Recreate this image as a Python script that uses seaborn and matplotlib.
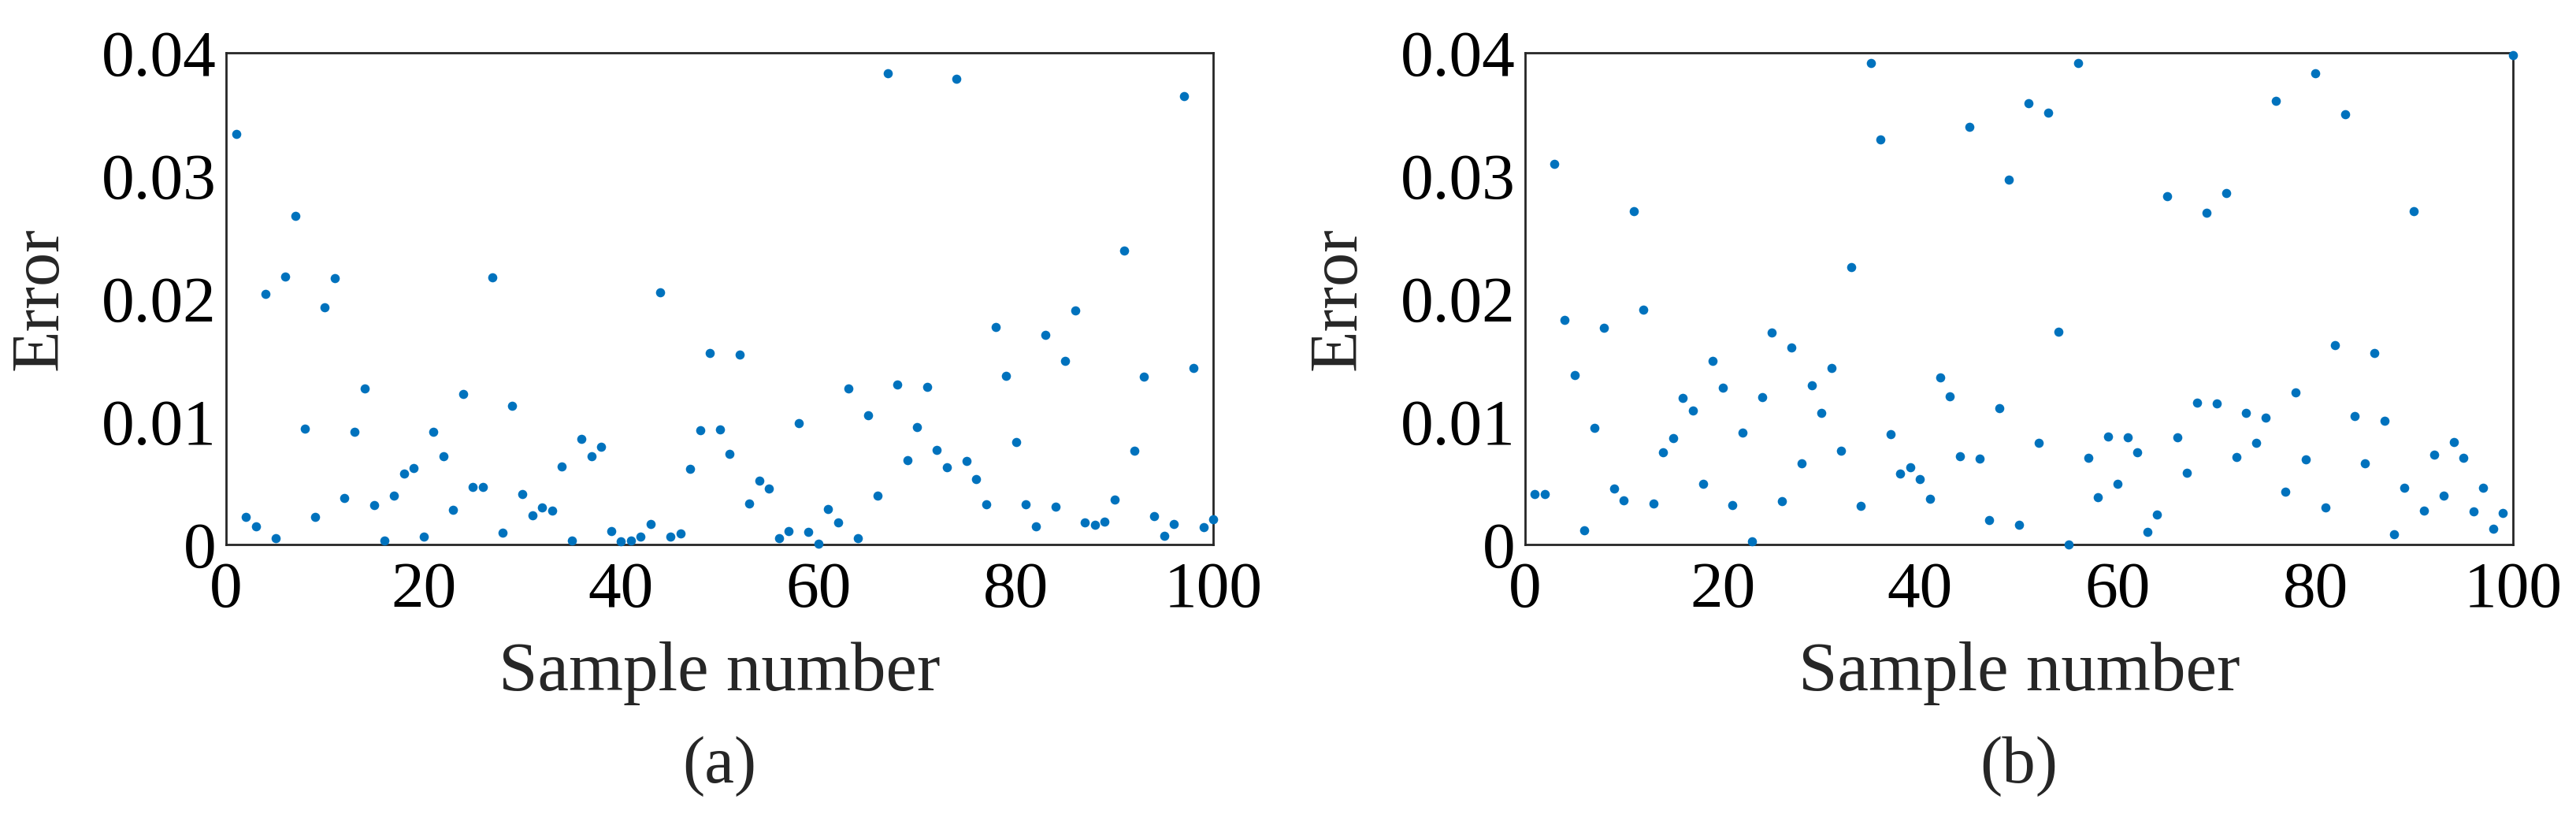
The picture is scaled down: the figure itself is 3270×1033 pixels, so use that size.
import pandas as pd
import matplotlib
matplotlib.use('Agg')
import matplotlib.pyplot as plt
import seaborn as sns

# data
sample_number = list(range(1, 101))

error_a = [0.0334, 0.00227, 0.00151, 0.02038, 0.00051, 0.02181, 0.02675, 0.00942, 0.00227, 0.01932,
           0.02165, 0.00381, 0.00920, 0.01271, 0.00318, 0.00030, 0.00399, 0.00578, 0.00623, 0.00062,
           0.00920, 0.00721, 0.00283, 0.01228, 0.00467, 0.00470, 0.02175, 0.00094, 0.01131, 0.00408,
           0.00235, 0.00305, 0.00275, 0.00632, 0.00030, 0.00861, 0.00721, 0.00794, 0.00111, 0.00024,
           0.00030, 0.00065, 0.00165, 0.02049, 0.00065, 0.00089, 0.00613, 0.00928, 0.01557, 0.00937,
           0.00737, 0.01544, 0.00332, 0.00518, 0.00453, 0.00054, 0.00108, 0.00985, 0.00105, 0.00005,
           0.00286, 0.00178, 0.01271, 0.00049, 0.01050, 0.00397, 0.03835, 0.01304, 0.00688, 0.00958,
           0.01285, 0.00767, 0.00626, 0.03792, 0.00683, 0.00532, 0.00327, 0.01768, 0.01374, 0.00834,
           0.00327, 0.00146, 0.01706, 0.00308, 0.01495, 0.01903, 0.00181, 0.00162, 0.00184, 0.00367,
           0.02389, 0.00761, 0.01363, 0.00232, 0.00070, 0.00170, 0.03649, 0.01436, 0.00140, 0.00208]

error_b = [0.00413, 0.00413, 0.03096, 0.01830, 0.01377, 0.00113, 0.00947, 0.01765, 0.00453, 0.00362,
           0.02710, 0.01908, 0.00332, 0.00748, 0.00869, 0.01193, 0.01090, 0.00494, 0.01495, 0.01274,
           0.00321, 0.00910, 0.00027, 0.01198, 0.01722, 0.00356, 0.01606, 0.00661, 0.01298, 0.01071,
           0.01436, 0.00761, 0.02254, 0.00313, 0.03919, 0.03296, 0.00901, 0.00578, 0.00626, 0.00534,
           0.00375, 0.01358, 0.01204, 0.00721, 0.03398, 0.00699, 0.00197, 0.01112, 0.02969, 0.00162,
           0.03592, 0.00829, 0.03514, 0.01730, 0.00003, 0.03916, 0.00704, 0.00383, 0.00877, 0.00491,
           0.00872, 0.00750, 0.00103, 0.00243, 0.02837, 0.00872, 0.00586, 0.01155, 0.02699, 0.01147,
           0.02858, 0.00715, 0.01074, 0.00826, 0.01034, 0.03611, 0.00429, 0.01236, 0.00696, 0.03833,
           0.00305, 0.01620, 0.03503, 0.01045, 0.00661, 0.01557, 0.01010, 0.00086, 0.00459, 0.02710,
           0.00273, 0.00729, 0.00399, 0.00834, 0.00707, 0.00267, 0.00464, 0.00127, 0.00254, 0.03981]

x_ticks = [0, 20, 40, 60, 80, 100]
y_ticks = [0, 0.01, 0.02, 0.03, 0.04]
y_tick_labels = ['0', '0.01', '0.02', '0.03', '0.04']
panel_labels = ['(a)', '(b)']

sns.set_theme(style='white')
plt.rcParams['font.family'] = ['Liberation Serif', 'DejaVu Serif']

fig = plt.figure(figsize=(32.7, 10.33), dpi=100)
ax_a = fig.add_axes([0.0878, 0.331, 0.3832, 0.604])
ax_b = fig.add_axes([0.5920, 0.331, 0.3835, 0.604])

for ax, err, label in zip([ax_a, ax_b], [error_a, error_b], panel_labels):
    df = pd.DataFrame({'sample': sample_number, 'error': err})
    sns.scatterplot(data=df, x='sample', y='error', ax=ax, color='#0072BD',
                    s=70, linewidth=0, clip_on=False, zorder=3)
    ax.set_xlim(0, 100)
    ax.set_ylim(0, 0.04)
    ax.set_xticks(x_ticks)
    ax.set_xticklabels([str(t) for t in x_ticks])
    ax.set_yticks(y_ticks)
    ax.set_yticklabels(y_tick_labels)
    ax.tick_params(axis='both', length=0, labelsize=60, colors='black')
    ax.tick_params(axis='x', pad=15)
    ax.tick_params(axis='y', pad=9)
    ax.set_xlabel('Sample number', fontsize=64, labelpad=19)
    ax.set_ylabel('Error', fontsize=62, labelpad=27)
    for sp in ax.spines.values():
        sp.set_color('#262626')
        sp.set_linewidth(2.0)
    pos = ax.get_position()
    fig.text((pos.x0 + pos.x1) / 2, 0.059, label, ha='center', va='center', fontsize=61)

fig.savefig('out.png', dpi=100)
